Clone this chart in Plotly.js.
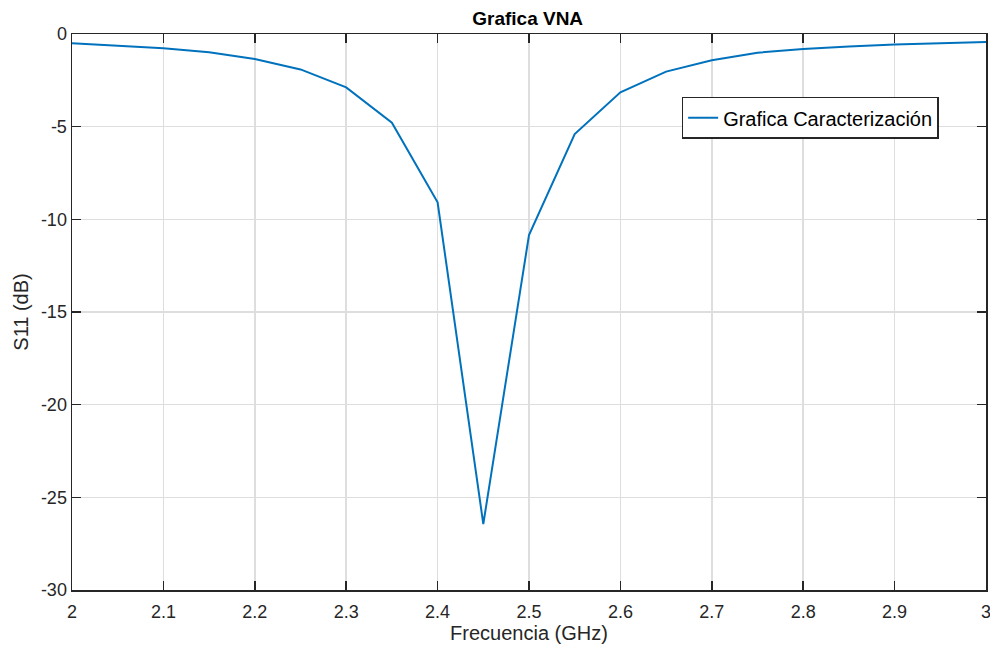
<!DOCTYPE html>
<html>
<head>
<meta charset="utf-8">
<script src="https://cdn.plot.ly/plotly-3.0.1.min.js"></script>
<style>html,body{margin:0;padding:0;background:#fff;}#chart{width:990px;height:650px;}</style>
</head>
<body>
<div id="chart"></div>
<script>
var freqGHz = [2.00, 2.05, 2.10, 2.15, 2.20, 2.25, 2.30, 2.35, 2.40, 2.45, 2.50, 2.55, 2.60, 2.65, 2.70, 2.75, 2.80, 2.85, 2.90, 2.95, 3.00];
var s11dB = [-0.50, -0.65, -0.77, -0.99, -1.35, -1.91, -2.88, -4.79, -9.08, -26.44, -10.85, -5.40, -3.15, -2.03, -1.42, -1.01, -0.81, -0.67, -0.56, -0.50, -0.43];
var seriesName = 'Grafica Caracterización';
var xTicks = [2, 2.1, 2.2, 2.3, 2.4, 2.5, 2.6, 2.7, 2.8, 2.9, 3];
var xTickText = ['2', '2.1', '2.2', '2.3', '2.4', '2.5', '2.6', '2.7', '2.8', '2.9', '3'];
var yTicks = [-30, -25, -20, -15, -10, -5, 0];
var yTickText = ['-30', '-25', '-20', '-15', '-10', '-5', '0'];

var font = 'Liberation Sans, Arial, sans-serif';
var axisCommon = {
  showline: true, linecolor: '#262626', linewidth: 1.5, mirror: 'allticks',
  ticks: 'inside', ticklen: 9, tickwidth: 1.5, tickcolor: '#262626',
  showgrid: true, gridcolor: '#dedede', gridwidth: 1.5,
  zeroline: false, ticklabeloverflow: 'allow',
  tickfont: {family: font, size: 18, color: '#262626'}
};
var layout = {
  width: 990, height: 650,
  margin: {l: 72, r: 4, t: 34, b: 60},
  paper_bgcolor: '#fff', plot_bgcolor: '#fff',
  title: {text: '<b>Grafica VNA</b>', font: {family: font, size: 19, color: '#000'}, x: 0.533, xanchor: 'center', y: 0.972, yanchor: 'middle'},
  xaxis: Object.assign({}, axisCommon, {
    range: [2, 3], tickvals: xTicks, ticktext: xTickText, ticklabelstandoff: 5,
    title: {text: 'Frecuencia (GHz)', font: {family: font, size: 20, color: '#262626'}, standoff: 5}
  }),
  yaxis: Object.assign({}, axisCommon, {
    range: [-30, 0], tickvals: yTicks, ticktext: yTickText,
    title: {text: 'S11 (dB)', font: {family: font, size: 20, color: '#262626'}, standoff: 7}
  }),
  showlegend: true,
  legend: {x: 0.667, y: 0.887, xanchor: 'left', yanchor: 'top', bgcolor: '#fff', bordercolor: '#262626', borderwidth: 1.5,
    font: {family: font, size: 20, color: '#000'}, itemwidth: 30, tracegroupgap: 0}
};
var data = [{
  x: freqGHz, y: s11dB, type: 'scatter', mode: 'lines', name: seriesName,
  line: {color: '#0072BD', width: 2}
}];
Plotly.newPlot('chart', data, layout, {displayModeBar: false, staticPlot: true});
</script>
</body>
</html>
